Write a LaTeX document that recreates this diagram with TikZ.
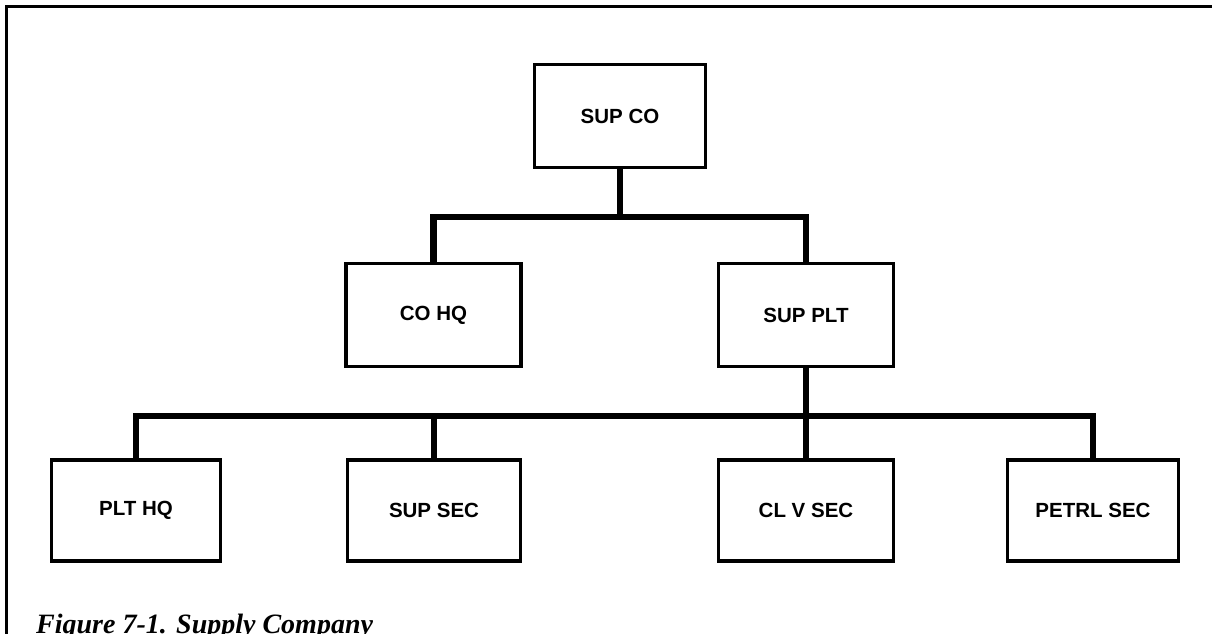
\documentclass[tikz,border=0pt]{standalone}
\usepackage{fontspec}
\setmainfont{Liberation Sans}
\newfontfamily\capfont{Liberation Serif}
\begin{document}
\begin{tikzpicture}[x=1pt,y=-1pt,
  unit/.style={draw=black, line width=3.8pt, fill=white, inner sep=0pt,
    minimum height=103pt, font=\bfseries\fontsize{20.5}{22}\selectfont},
  conn/.style={draw=black, line width=6.5pt, line join=miter},
  frame/.style={draw=black, line width=3pt}]
\useasboundingbox (0,0) rectangle (1212,634);
\draw[frame] (6,640) -- (6,7) -- (1212,7);

\node[unit, minimum width=171pt] (supco) at (620,116) {SUP CO};
\node[unit, minimum width=175pt] (cohq) at (433.5,315) {CO HQ};
\node[unit, minimum width=175pt] (supplt) at (806,315) {SUP PLT};
\node[unit, minimum width=169pt, minimum height=101pt] (plthq) at (136,510.5) {PLT HQ};
\node[unit, minimum width=173pt, minimum height=101pt] (supsec) at (434,510.5) {SUP SEC};
\node[unit, minimum width=175pt, minimum height=101pt] (clvsec) at (806,510.5) {CL V SEC};
\node[unit, minimum width=171pt, minimum height=101pt] (petrlsec) at (1093,510.5) {PETRL SEC};

\coordinate (b1) at (620,217);
\coordinate (b2) at (806,416);

\draw[conn] (supco.south) -- (b1);
\draw[conn] (cohq.north) |- (b1) -| (supplt.north);
\draw[conn] (supplt.south) -- (clvsec.north);
\draw[conn] (plthq.north) |- (b2) -| (petrlsec.north);
\draw[conn] (supsec.north) -- (supsec.north |- b2);

\node[anchor=base west, inner sep=0pt,
  font=\capfont\bfseries\itshape\fontsize{28}{30}\selectfont] (cap) at (36,633)
  {Figure 7-1. Supply Company};
\end{tikzpicture}
\end{document}
